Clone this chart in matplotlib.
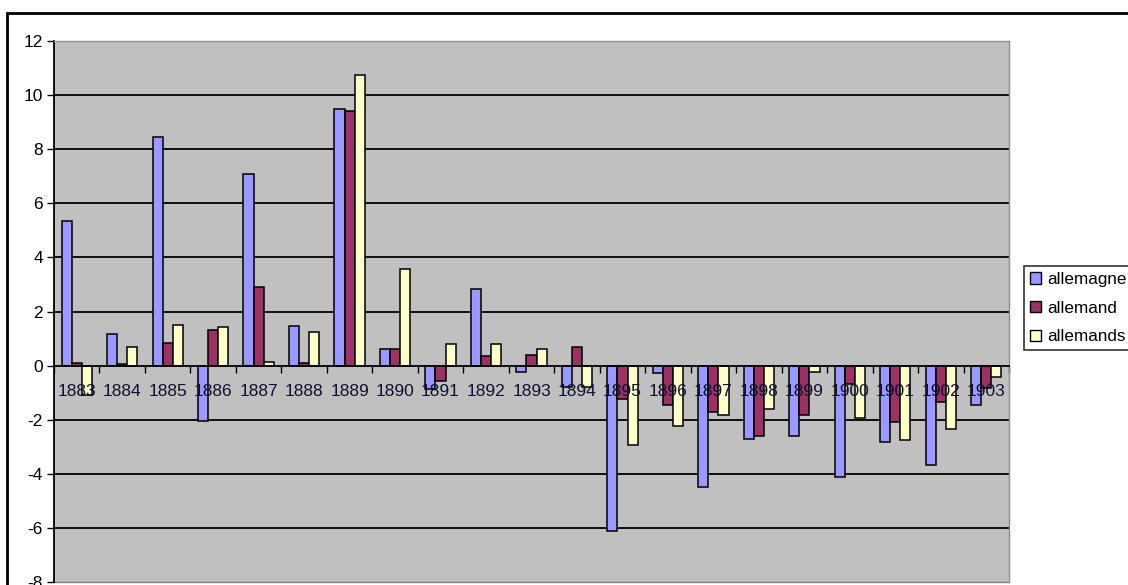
import numpy as np
import matplotlib
matplotlib.use('Agg')
import matplotlib.pyplot as plt
from matplotlib.patches import Rectangle, Patch
from matplotlib.ticker import MultipleLocator

# Data
years = [str(y) for y in range(1883, 1904)]
allemagne = [5.35, 1.15, 8.45, -2.05, 7.1, 1.45, 9.5, 0.6, -0.85, 2.85, -0.25,
             -0.8, -6.1, -0.27, -4.48, -2.71, -2.6, -4.11, -2.82, -3.69, -1.45]
allemand = [0.1, 0.05, 0.82, 1.33, 2.9, 0.1, 9.4, 0.6, -0.58, 0.34, 0.4,
            0.67, -1.25, -1.46, -1.71, -2.61, -1.83, -0.68, -2.08, -1.35, -0.82]
allemands = [-1.1, 0.67, 1.5, 1.44, 0.15, 1.25, 10.75, 3.57, 0.79, 0.79, 0.62,
             -0.79, -2.95, -2.24, -1.83, -1.6, -0.25, -1.92, -2.76, -2.34, -0.42]

series = [('allemagne', allemagne, '#9999FF'),
          ('allemand', allemand, '#993366'),
          ('allemands', allemands, '#FFFFCC')]

plt.rcParams['font.family'] = ['Liberation Sans', 'DejaVu Sans']
plt.rcParams['axes.unicode_minus'] = False

W, H = 1128, 585
fig = plt.figure(figsize=(W / 100, H / 100), dpi=100)

# outer chart frame (runs off the right and bottom edge)
fig.patches.append(Rectangle((7 / W, -0.05), 1.2, 1 - 13 / H + 0.05,
                             transform=fig.transFigure, fill=False,
                             edgecolor='black', linewidth=2))

left, right, top, bottom = 54, 1009, 41, 582
ax = fig.add_axes([left / W, (H - bottom) / H, (right - left) / W, (bottom - top) / H])
ax.set_facecolor('#C0C0C0')

x = np.arange(len(years))
w = 1 / 4.5
for i, (name, vals, col) in enumerate(series):
    ax.bar(x + (i - 1) * w, vals, width=w, color=col, edgecolor='black',
           linewidth=1.1, label=name, zorder=3)

ax.set_xlim(-0.5, len(years) - 0.5)
ax.set_ylim(-8, 12)
ax.yaxis.set_major_locator(MultipleLocator(2))
for yv in range(-6, 12, 2):
    if yv != 0:
        ax.axhline(yv, color='black', linewidth=1.3, zorder=1)
ax.axhline(-8, color='#808080', linewidth=1, zorder=1, clip_on=False)

for s in ['top', 'right']:
    ax.spines[s].set_color('#909090')
    ax.spines[s].set_linewidth(1)
ax.spines['left'].set_color('black')
ax.spines['left'].set_linewidth(1.3)
ax.spines['bottom'].set_position(('data', 0))
ax.spines['bottom'].set_color('black')
ax.spines['bottom'].set_linewidth(1.3)
ax.spines['bottom'].set_zorder(4)

ax.tick_params(axis='y', direction='out', length=5, width=1, labelsize=12.5, pad=3)
ax.set_xticks(x)
ax.set_xticklabels([])
ax.tick_params(axis='x', which='major', length=0)
ax.set_xticks(np.arange(len(years) + 1) - 0.5, minor=True)
ax.tick_params(axis='x', which='minor', direction='out', length=5, width=1)

for xi, lab in zip(x, years):
    ax.annotate(lab, (xi, 0), xytext=(0, -19), textcoords='offset points',
                ha='center', va='center', fontsize=12.5, color='#101030', zorder=6)

handles = [Patch(facecolor=c, edgecolor='black', label=n) for n, _, c in series]
leg = fig.legend(handles=handles, loc='upper left',
                 bbox_to_anchor=(1024 / W, 1 - 266 / H), fontsize=12.3,
                 frameon=True, fancybox=False, edgecolor='black',
                 handlelength=0.65, handleheight=0.65, handletextpad=0.35,
                 labelspacing=0.8, borderpad=0.35, borderaxespad=0)
leg.get_frame().set_linewidth(1.2)

fig.savefig('out.png', dpi=100)
